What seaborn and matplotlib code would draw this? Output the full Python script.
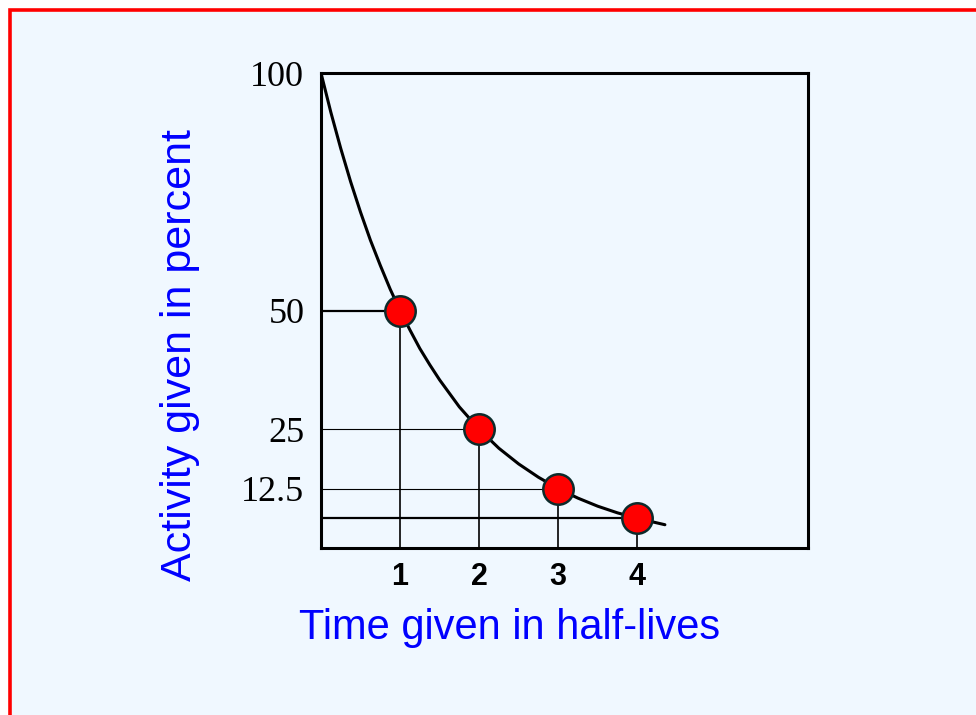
import matplotlib
matplotlib.use("Agg")
import matplotlib.pyplot as plt
from matplotlib.patches import Rectangle
import seaborn as sns
import pandas as pd

# Half-life markers
half_lives = [1, 2, 3, 4]
activity = [50, 25, 12.5, 6.25]

# Decay curve samples (time in half-lives, activity in percent)
curve_t = [0, 0.125, 0.25, 0.375, 0.5, 0.625, 0.75, 0.875, 1, 1.125, 1.25,
           1.375, 1.5, 1.75, 2, 2.25, 2.5, 2.75, 3, 3.25, 3.5, 3.75, 4, 4.35]
curve_a = [100, 91.7, 84.1, 77.1, 70.7, 64.8, 59.5, 54.5, 50, 45.9, 42.0,
           38.6, 35.4, 29.7, 25, 21.0, 17.7, 14.9, 12.5, 10.5, 8.8, 7.4, 6.25, 4.9]

y_ticks = [100, 50, 25, 12.5]
y_tick_labels = ["100", "50", "25", "12.5"]
x_ticks = [1, 2, 3, 4]
x_tick_labels = ["1", "2", "3", "4"]

# guide line widths for each level (50, 25, 12.5, 6.25)
guide_widths = [1.6, 0.8, 0.8, 1.6]

BG = "#F0F8FF"

sns.set_style("white")
plt.rcParams["font.family"] = ["Liberation Sans", "DejaVu Sans"]

fig = plt.figure(figsize=(9.76, 7.15), dpi=100, facecolor="white")

# framed light panel
fig.patches.append(Rectangle((9.5 / 976, -0.05), 1.1, (715 - 9.5) / 715 + 0.05,
                             transform=fig.transFigure, facecolor=BG,
                             edgecolor="#ff0000", linewidth=2.6, zorder=-10))

ax = fig.add_axes([321 / 976, 1 - 548 / 715, (808 - 321) / 976, (548 - 73) / 715])
ax.set_facecolor(BG)

curve = pd.DataFrame({"t": curve_t, "a": curve_a})
pts = pd.DataFrame({"t": half_lives, "a": activity})

# guide lines from each marker to the axes
for t, a, w in zip(half_lives, activity, guide_widths):
    ax.plot([0, t], [a, a], color="black", linewidth=w, zorder=2)
    ax.plot([t, t], [0, a], color="black", linewidth=1.2, zorder=2)

sns.lineplot(data=curve, x="t", y="a", ax=ax, color="black", linewidth=2.2,
             zorder=3, sort=False)
sns.scatterplot(data=pts, x="t", y="a", ax=ax, s=480, color="#ff0000",
                edgecolor="#0d2b2b", linewidth=1.8, zorder=4)

ax.set_xlim(0, 6.16)
ax.set_ylim(0, 100)

ax.set_yticks(y_ticks)
ax.set_yticklabels(y_tick_labels, family=["Liberation Serif", "DejaVu Serif"],
                   fontsize=26, color="black")
ax.set_xticks(x_ticks)
ax.set_xticklabels(x_tick_labels, fontweight="bold", fontsize=22, color="black")
ax.tick_params(axis="y", length=0, pad=12)
ax.tick_params(axis="x", length=0, pad=10)

for s in ax.spines.values():
    s.set_visible(True)
    s.set_color("black")
    s.set_linewidth(2.2)

ax.set_xlabel("")
ax.set_ylabel("")

fig.text(510 / 976, 1 - 628 / 715, "Time given in half-lives", color="#0000ff",
         fontsize=30, ha="center", va="center")
fig.text(180 / 976, 1 - 355 / 715, "Activity given in percent", color="#0000ff",
         fontsize=31, ha="center", va="center", rotation=90)

fig.savefig("out.png", dpi=100, facecolor="white")
